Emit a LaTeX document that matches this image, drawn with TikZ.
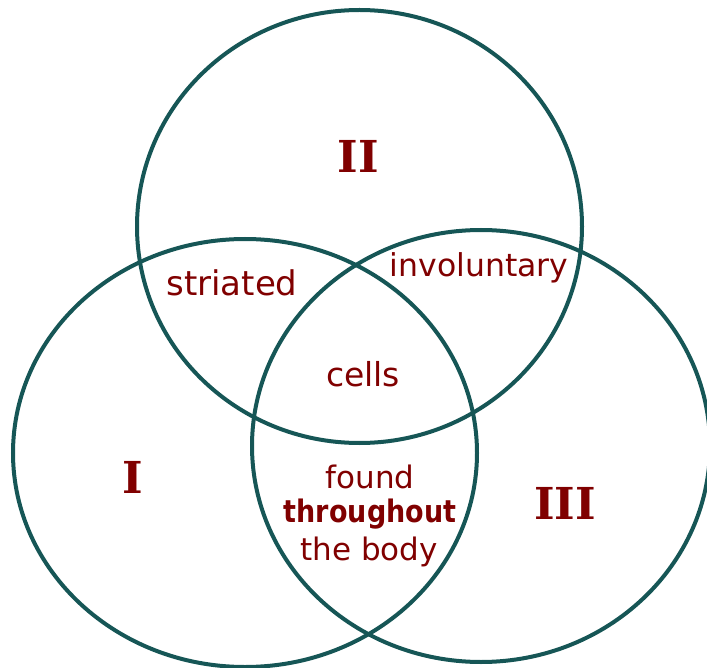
\documentclass[tikz,border=0pt]{standalone}
\usepackage{fontspec}
\setmainfont{DejaVu Sans}
\newfontfamily\romanfont{DejaVu Serif}
\definecolor{ringcol}{RGB}{22,86,86}
\definecolor{labelcol}{RGB}{128,0,0}
\tikzset{
  ring/.style={draw=ringcol, line width=4pt},
  numeral/.style={text=labelcol, inner sep=0pt, anchor=base, font=\romanfont\bfseries\fontsize{44}{44}\selectfont},
  word/.style={text=labelcol, inner sep=0pt, anchor=base, font=\fontsize{32}{32}\selectfont},
  boldword/.style={text=labelcol, inner sep=0pt, anchor=base, font=\bfseries\fontsize{31}{31}\selectfont}
}
\begin{document}
\begin{tikzpicture}[x=1pt,y=-1pt]
\useasboundingbox (0,0) rectangle (707,668);
\clip (0,0) rectangle (707,668);
% circles
\draw[ring] (359.5,226.5) ellipse [x radius=222.5pt, y radius=216.5pt];
\draw[ring] (245,453) ellipse [x radius=232pt, y radius=214pt];
\draw[ring] (481,446) ellipse [x radius=229pt, y radius=216pt];
% numerals
\node[numeral] (two) at (358,172.5) {II};
\node[numeral] (one) at (133,493) {I};
\node[numeral] (three) at (565,519) {III};
% words
\node[word, font=\fontsize{34}{34}\selectfont] (striated) at (232,296) {striated};
\node[word, font=\fontsize{31.5}{31.5}\selectfont] (invol) at (479,277) {involuntary};
\node[word, font=\fontsize{33}{33}\selectfont] (cells) at (363,386) {cells};
\node[word, font=\fontsize{31}{31}\selectfont] (found) at (370,488) {found};
\node[boldword] (through) at (370,522) {\scalebox{0.87}[1]{throughout}};
\node[word, font=\fontsize{31}{31}\selectfont] (body) at (369,560) {the body};
\end{tikzpicture}
\end{document}
